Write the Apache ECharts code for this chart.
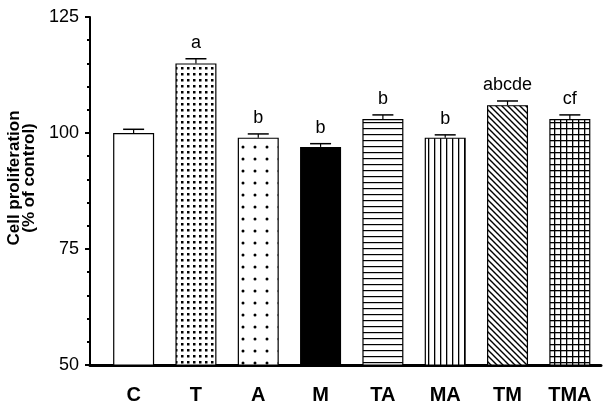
<!DOCTYPE html>
<html><head><meta charset="utf-8">
<script src="https://cdn.jsdelivr.net/npm/echarts@6/dist/echarts.min.js"></script>
<style>html,body{margin:0;padding:0;background:#fff}#c{width:606px;height:405px}</style>
</head><body><div id="c"></div>
<script>
const categories = ['C','T','A','M','TA','MA','TM','TMA'];
const values = [100,115,99,97,103,99,106,103];
const errors = [0.8,1.0,0.8,0.7,0.9,0.6,0.9,0.9];
const letters = ['','a','b','b','b','b','abcde','cf'];
const yMin = 50, yMax = 125, yStep = 25;
const yTitle = 'Cell proliferation\n(% of control)';

function mk(w,h,draw){const c=document.createElement('canvas');c.width=w;c.height=h;const g=c.getContext('2d');g.fillStyle='#fff';g.fillRect(0,0,w,h);g.fillStyle='#000';g.strokeStyle='#000';draw(g);return c;}
const patterns = [
  '#ffffff',
  {image: mk(6,6,g=>{g.fillRect(1,1,2.5,2.5);}), repeat:'repeat'},
  {image: mk(12,12,g=>{g.beginPath();g.arc(3,3,1.5,0,Math.PI*2);g.fill();}), repeat:'repeat'},
  '#000000',
  {image: mk(6,6,g=>{g.fillRect(0,2,6,1.2);}), repeat:'repeat'},
  {image: mk(6,6,g=>{g.fillRect(2,0,1.3,6);}), repeat:'repeat'},
  {image: mk(6,6,g=>{g.lineWidth=1.4;g.beginPath();g.moveTo(-1,-1);g.lineTo(7,7);g.moveTo(-1,5);g.lineTo(1,7);g.moveTo(5,-1);g.lineTo(7,1);g.stroke();}), repeat:'repeat'},
  {image: mk(6,6,g=>{g.fillRect(0,2,6,1.3);g.fillRect(2,0,1.3,6);}), repeat:'repeat'}
];

const chart = echarts.init(document.getElementById('c'), null, {renderer:'canvas'});
chart.setOption({
  animation:false,
  backgroundColor:'#fff',
  grid:{left:90,right:5,top:17,bottom:40,outerBoundsMode:'none',containLabel:false},
  xAxis:{type:'value',min:-0.7,max:7.5,
    axisLine:{onZero:false,lineStyle:{color:'#000',width:3}},
    axisTick:{show:false},splitLine:{show:false},
    axisLabel:{customValues:categories.map((c,i)=>i),formatter:v=>categories[Math.round(v)],
      color:'#000',fontFamily:'Liberation Sans, Arial',fontWeight:'bold',fontSize:20,margin:20}
  },
  yAxis:{type:'value',min:yMin,max:yMax,interval:yStep,
    name:yTitle,nameLocation:'middle',nameRotate:90,nameGap:52,
    nameTextStyle:{color:'#000',fontFamily:'Liberation Sans, Arial',fontWeight:'bold',fontSize:17,lineHeight:15,padding:[0,0,0,26]},
    axisLine:{onZero:false,lineStyle:{color:'#000',width:2}},
    axisTick:{length:5,lineStyle:{color:'#000',width:2}},
    minorTick:{show:true,splitNumber:5,length:3,lineStyle:{color:'#000',width:2}},
    splitLine:{show:false},
    axisLabel:{color:'#000',fontFamily:'Liberation Sans, Arial',fontSize:18,margin:11}
  },
  series:[
    {type:'bar',barWidth:41,
      data:values.map((v,i)=>({value:[i,v],itemStyle:{color:patterns[i]}})),
      itemStyle:{borderColor:'#000',borderWidth:1.2}},
    {type:'custom',
      data:values.map((v,i)=>[i,v,errors[i]]),
      encode:{x:0,y:1},
      renderItem:function(params,api){
        const i=api.value(0),v=api.value(1),e=api.value(2);
        const base=api.coord([i,v]);const top=api.coord([i,v+e]);
        const hw=10.5;
        return {type:'group',children:[
          {type:'line',shape:{x1:base[0],y1:base[1],x2:top[0],y2:top[1]},style:{stroke:'#000',lineWidth:1.2}},
          {type:'line',shape:{x1:top[0]-hw,y1:top[1],x2:top[0]+hw,y2:top[1]},style:{stroke:'#000',lineWidth:1.5}},
          {type:'text',style:{text:letters[params.dataIndex],x:top[0],y:top[1]-7,align:'center',verticalAlign:'bottom',
            fill:'#000',font:'18px "Liberation Sans", Arial'}}
        ]};
      }
    }
  ]
});
</script></body></html>
